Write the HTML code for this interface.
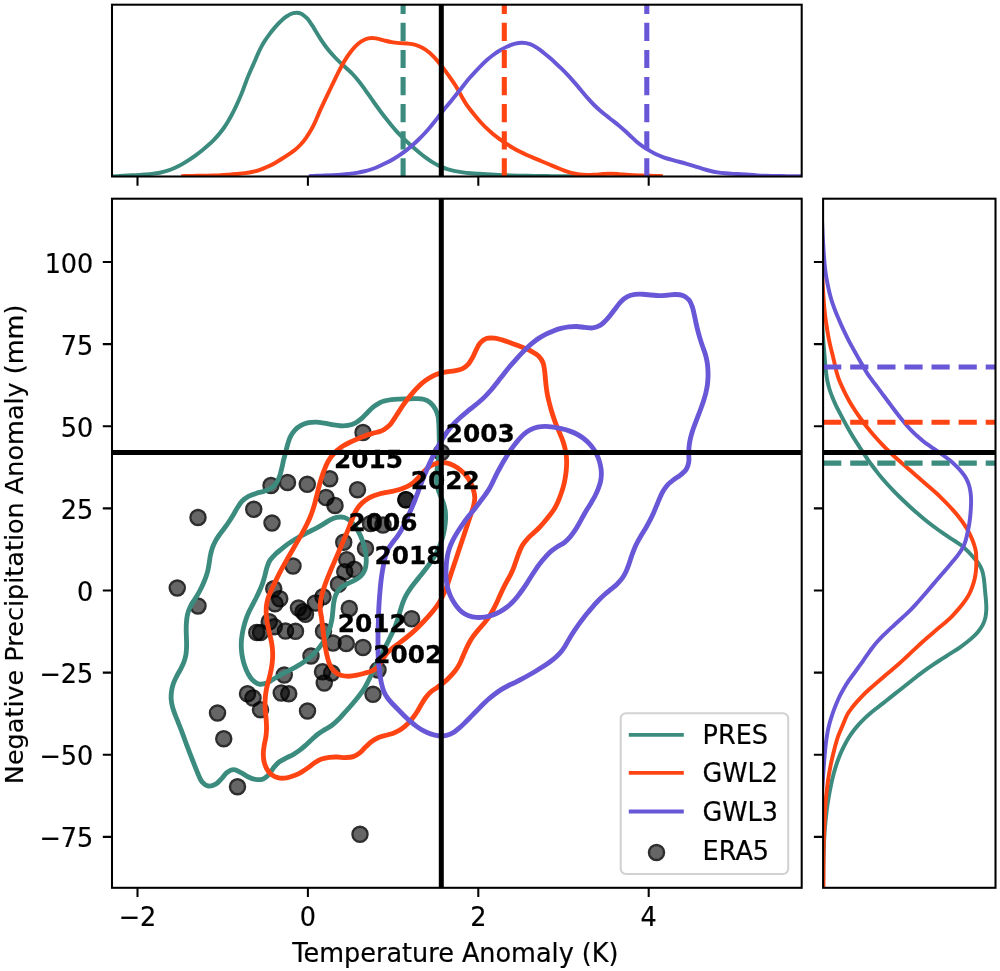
<!DOCTYPE html>
<html lang="en"><head><meta charset="utf-8"><title>Temperature vs precipitation anomaly</title>
<style>html,body{margin:0;padding:0;background:#fff}body{width:1000px;height:971px;overflow:hidden}svg{display:block}text{font-family:"DejaVu Sans","Liberation Sans",sans-serif;fill:#000}.t{font-size:25.5px;stroke:#000;stroke-width:.2px}.yl{font-size:25.5px;stroke:#000;stroke-width:.15px}.b{font-size:24.8px;font-weight:bold;stroke:#000;stroke-width:.3px}</style></head><body>
<svg width="1000" height="971" viewBox="0 0 1000 971">
<rect width="1000" height="971" fill="#fff"/>
<defs><clipPath id="ct"><rect x="112" y="4.7" width="689.7" height="171.8"/></clipPath><clipPath id="cm"><rect x="112" y="198.7" width="689.7" height="689.1"/></clipPath><clipPath id="cr"><rect x="823.1" y="198.7" width="172.4" height="689.1"/></clipPath></defs>
<g clip-path="url(#ct)" fill="none" stroke-linejoin="round">
<path d="M112,176.5C113.33,176.43 117.33,176.2 120,176.05C122.66,175.9 125.33,175.75 128,175.59C130.66,175.43 133.33,175.28 135.99,175.1C138.66,174.92 141.32,174.74 143.98,174.53C146.64,174.33 149.31,174.16 151.96,173.85C154.61,173.54 157.27,173.21 159.89,172.69C162.5,172.17 165.11,171.55 167.64,170.72C170.17,169.9 172.64,168.83 175.07,167.73C177.5,166.63 179.89,165.42 182.22,164.12C184.55,162.83 186.82,161.41 189.05,159.95C191.29,158.49 193.47,156.94 195.63,155.37C197.78,153.8 199.91,152.18 201.99,150.51C204.07,148.83 206.11,147.11 208.1,145.32C210.09,143.54 212.04,141.72 213.91,139.81C215.77,137.9 217.57,135.92 219.27,133.87C220.98,131.81 222.61,129.69 224.13,127.5C225.66,125.31 227.06,123.03 228.42,120.74C229.78,118.44 231.06,116.09 232.3,113.73C233.54,111.36 234.71,108.96 235.86,106.55C237.01,104.14 238.11,101.71 239.18,99.26C240.24,96.81 241.27,94.35 242.25,91.86C243.23,89.38 244.12,86.86 245.06,84.36C246,81.86 246.9,79.35 247.9,76.87C248.9,74.4 249.98,71.96 251.05,69.51C252.12,67.06 253.24,64.64 254.31,62.19C255.38,59.74 256.38,57.27 257.48,54.83C258.57,52.4 259.64,49.94 260.89,47.59C262.13,45.23 263.51,42.93 264.95,40.69C266.39,38.45 267.95,36.26 269.54,34.13C271.14,31.99 272.8,29.89 274.54,27.87C276.28,25.84 278.06,23.83 279.98,21.98C281.9,20.13 283.85,18.23 286.07,16.76C288.28,15.3 290.77,13.7 293.25,13.16C295.73,12.63 298.62,12.65 300.94,13.53C303.26,14.41 305.34,16.54 307.17,18.45C309,20.35 310.43,22.73 311.91,24.96C313.39,27.18 314.67,29.53 316.07,31.81C317.46,34.08 318.84,36.37 320.29,38.61C321.75,40.85 323.23,43.07 324.81,45.23C326.38,47.39 328.01,49.5 329.72,51.55C331.44,53.59 333.25,55.56 335.09,57.49C336.94,59.42 338.86,61.28 340.8,63.11C342.74,64.94 344.79,66.67 346.75,68.48C348.71,70.29 350.71,72.07 352.55,74C354.39,75.92 356.11,77.98 357.79,80.04C359.48,82.11 361.08,84.26 362.67,86.4C364.25,88.55 365.77,90.75 367.32,92.93C368.86,95.11 370.38,97.3 371.92,99.48C373.46,101.66 375,103.85 376.56,106.01C378.13,108.17 379.7,110.33 381.31,112.46C382.92,114.59 384.55,116.71 386.2,118.81C387.85,120.91 389.5,123.01 391.2,125.07C392.89,127.13 394.59,129.2 396.37,131.18C398.16,133.17 400.02,135.09 401.9,136.97C403.79,138.86 405.74,140.69 407.7,142.51C409.66,144.32 411.64,146.11 413.66,147.86C415.67,149.61 417.71,151.34 419.78,153.02C421.86,154.7 423.96,156.36 426.12,157.92C428.28,159.49 430.46,161.04 432.75,162.42C435.03,163.79 437.4,165.06 439.82,166.17C442.24,167.28 444.74,168.27 447.27,169.1C449.81,169.92 452.41,170.57 455.02,171.11C457.63,171.65 460.28,172 462.93,172.34C465.58,172.69 468.24,172.93 470.9,173.16C473.56,173.4 476.22,173.58 478.89,173.77C481.55,173.95 484.22,174.13 486.88,174.29C489.55,174.46 492.21,174.61 494.88,174.76C497.55,174.9 500.21,175.03 502.88,175.15C505.55,175.27 508.21,175.39 510.88,175.49C513.55,175.58 516.22,175.65 518.89,175.71C521.56,175.77 524.23,175.8 526.9,175.84C529.57,175.88 532.24,175.91 534.91,175.94C537.58,175.97 540.25,176 542.92,176.02C545.59,176.05 548.26,176.07 550.93,176.1C553.6,176.13 556.23,176.15 558.93,176.18C561.63,176.2 564.59,176.21 567.13,176.25C569.67,176.28 572.69,176.34 574.17,176.38C575.65,176.42 575.7,176.48 576,176.5" stroke="#3b8b7e" stroke-width="3.95"/>
<path d="M181.2,176.13C182.53,176.11 186.53,176.03 189.19,175.98C191.85,175.93 194.52,175.87 197.18,175.82C199.84,175.77 202.51,175.74 205.17,175.7C207.83,175.66 210.5,175.65 213.16,175.57C215.82,175.49 218.49,175.39 221.14,175.23C223.8,175.07 226.46,174.84 229.11,174.63C231.77,174.41 234.42,174.18 237.08,173.93C239.73,173.68 242.39,173.49 245.03,173.13C247.67,172.77 250.31,172.36 252.9,171.76C255.49,171.16 258.06,170.41 260.57,169.54C263.08,168.67 265.56,167.66 267.98,166.55C270.4,165.44 272.76,164.19 275.08,162.9C277.41,161.6 279.68,160.2 281.94,158.79C284.2,157.38 286.44,155.94 288.64,154.44C290.84,152.93 293.09,151.47 295.13,149.77C297.17,148.08 299.1,146.23 300.9,144.27C302.7,142.32 304.35,140.2 305.91,138.04C307.47,135.88 308.9,133.63 310.25,131.34C311.6,129.05 312.84,126.68 314.01,124.29C315.18,121.9 316.22,119.44 317.29,117C318.36,114.56 319.35,112.09 320.44,109.66C321.53,107.23 322.68,104.82 323.82,102.41C324.96,100.01 326.13,97.61 327.28,95.21C328.43,92.81 329.57,90.4 330.72,88C331.87,85.6 333.02,83.19 334.18,80.8C335.35,78.4 336.52,76.01 337.72,73.63C338.92,71.25 340.11,68.86 341.38,66.52C342.65,64.18 343.95,61.86 345.36,59.59C346.76,57.33 348.22,55.09 349.81,52.96C351.4,50.82 353.02,48.67 354.88,46.78C356.75,44.9 358.77,43.04 361,41.65C363.23,40.25 365.74,38.96 368.26,38.41C370.79,37.85 373.53,38.01 376.13,38.34C378.73,38.66 381.3,39.72 383.89,40.36C386.48,41 389.05,41.7 391.67,42.16C394.29,42.62 396.95,42.86 399.6,43.1C402.25,43.33 404.94,43.28 407.59,43.57C410.23,43.86 412.92,44.12 415.45,44.86C417.98,45.59 420.47,46.68 422.78,47.97C425.08,49.26 427.24,50.9 429.28,52.6C431.32,54.3 433.19,56.23 435.01,58.17C436.83,60.11 438.52,62.18 440.21,64.25C441.89,66.31 443.51,68.43 445.1,70.56C446.7,72.69 448.25,74.86 449.78,77.04C451.3,79.23 452.82,81.42 454.26,83.66C455.71,85.89 457.12,88.16 458.44,90.47C459.77,92.77 460.9,95.2 462.21,97.51C463.53,99.82 464.86,102.13 466.35,104.34C467.84,106.54 469.5,108.63 471.14,110.74C472.77,112.84 474.44,114.92 476.15,116.96C477.86,119 479.6,121.03 481.41,122.98C483.21,124.94 485.07,126.86 487,128.69C488.93,130.52 490.93,132.29 492.98,133.98C495.04,135.67 497.17,137.27 499.32,138.85C501.47,140.42 503.66,141.94 505.88,143.41C508.1,144.89 510.35,146.32 512.64,147.68C514.93,149.03 517.26,150.34 519.62,151.56C521.99,152.78 524.4,153.91 526.83,155.01C529.26,156.1 531.73,157.11 534.18,158.14C536.64,159.18 539.1,160.19 541.56,161.21C544.02,162.24 546.48,163.26 548.94,164.29C551.4,165.31 553.85,166.35 556.31,167.37C558.77,168.4 561.2,169.5 563.69,170.43C566.19,171.36 568.7,172.28 571.27,172.95C573.84,173.62 576.48,174.12 579.11,174.46C581.75,174.81 584.42,174.97 587.08,175.01C589.74,175.05 592.4,174.85 595.06,174.69C597.72,174.54 600.37,174.23 603.03,174.08C605.69,173.93 608.35,173.81 611.01,173.82C613.67,173.83 616.34,174.01 619,174.15C621.66,174.3 624.31,174.53 626.97,174.71C629.63,174.89 632.28,175.09 634.94,175.24C637.6,175.39 640.27,175.49 642.93,175.59C645.59,175.69 648.25,175.75 650.92,175.82C653.58,175.9 656.91,175.98 658.91,176.03C660.9,176.08 662.23,176.12 662.9,176.13" stroke="#ff4413" stroke-width="3.95"/>
<path d="M308.8,176.13C310.13,176.08 314.14,175.93 316.81,175.82C319.48,175.71 322.14,175.61 324.81,175.49C327.48,175.37 330.15,175.25 332.82,175.11C335.48,174.96 338.15,174.8 340.81,174.6C343.48,174.4 346.14,174.19 348.8,173.89C351.45,173.6 354.1,173.28 356.74,172.84C359.37,172.41 362.01,171.92 364.6,171.29C367.19,170.65 369.75,169.88 372.27,169C374.79,168.13 377.27,167.11 379.72,166.04C382.17,164.98 384.58,163.82 386.95,162.6C389.32,161.37 391.65,160.06 393.94,158.69C396.23,157.31 398.49,155.87 400.69,154.36C402.89,152.85 405.05,151.28 407.15,149.63C409.25,147.98 411.28,146.24 413.28,144.46C415.27,142.69 417.22,140.85 419.12,138.98C421.03,137.12 422.91,135.21 424.73,133.26C426.55,131.31 428.32,129.3 430.05,127.27C431.78,125.24 433.45,123.15 435.11,121.06C436.77,118.96 438.36,116.82 440,114.71C441.63,112.59 443.24,110.46 444.92,108.38C446.59,106.3 448.34,104.28 450.04,102.23C451.75,100.17 453.46,98.12 455.14,96.04C456.82,93.97 458.48,91.87 460.13,89.78C461.79,87.68 463.38,85.53 465.05,83.45C466.73,81.37 468.42,79.3 470.17,77.29C471.93,75.28 473.76,73.33 475.58,71.38C477.41,69.43 479.25,67.49 481.14,65.6C483.03,63.71 484.93,61.83 486.92,60.06C488.92,58.29 490.97,56.56 493.11,54.97C495.25,53.38 497.49,51.91 499.78,50.54C502.08,49.18 504.44,47.89 506.87,46.79C509.29,45.68 511.78,44.58 514.34,43.91C516.91,43.25 519.63,42.75 522.25,42.8C524.87,42.86 527.59,43.38 530.08,44.23C532.57,45.08 534.92,46.51 537.17,47.92C539.43,49.33 541.53,51.03 543.62,52.69C545.72,54.34 547.74,56.1 549.76,57.85C551.77,59.6 553.77,61.37 555.73,63.18C557.69,65 559.63,66.84 561.53,68.72C563.43,70.59 565.3,72.5 567.14,74.44C568.98,76.37 570.8,78.33 572.58,80.32C574.37,82.3 576.11,84.33 577.84,86.36C579.57,88.4 581.23,90.49 582.95,92.54C584.67,94.58 586.38,96.63 588.16,98.63C589.94,100.62 591.73,102.61 593.61,104.49C595.5,106.38 597.47,108.18 599.47,109.95C601.48,111.72 603.55,113.4 605.62,115.09C607.7,116.77 609.81,118.41 611.91,120.06C614,121.72 616.14,123.33 618.2,125.03C620.26,126.73 622.27,128.48 624.26,130.26C626.25,132.04 628.17,133.9 630.14,135.71C632.1,137.52 634.01,139.4 636.04,141.13C638.08,142.85 640.18,144.5 642.36,146.05C644.53,147.59 646.79,149.04 649.08,150.41C651.37,151.78 653.7,153.1 656.11,154.25C658.52,155.4 661,156.4 663.51,157.29C666.03,158.19 668.61,158.89 671.18,159.63C673.74,160.37 676.34,161.01 678.91,161.73C681.49,162.44 684.06,163.14 686.63,163.89C689.19,164.64 691.74,165.43 694.3,166.21C696.85,166.99 699.39,167.83 701.95,168.59C704.51,169.34 707.07,170.11 709.67,170.74C712.26,171.37 714.88,171.92 717.51,172.35C720.15,172.78 722.81,173.07 725.46,173.33C728.12,173.59 730.79,173.75 733.46,173.9C736.12,174.05 738.8,174.11 741.46,174.25C744.13,174.4 746.79,174.56 749.46,174.76C752.12,174.95 754.78,175.25 757.44,175.42C760.11,175.6 762.78,175.72 765.45,175.81C768.11,175.9 770.79,175.93 773.46,175.98C776.13,176.03 778.8,176.06 781.47,176.09C784.14,176.13 786.81,176.15 789.48,176.18C792.15,176.21 795.49,176.25 797.49,176.27C799.5,176.29 800.83,176.31 801.5,176.32" stroke="#6857d6" stroke-width="3.95"/>
<path d="M403.1,176.5 V4.7" stroke="#3b8b7e" stroke-width="5.1" stroke-dasharray="18.2 8.9" stroke-dashoffset="0"/>
<path d="M504.3,176.5 V4.7" stroke="#ff4413" stroke-width="5.1" stroke-dasharray="18.2 8.9" stroke-dashoffset="0"/>
<path d="M646.8,176.5 V4.7" stroke="#6857d6" stroke-width="5.1" stroke-dasharray="18.2 8.9" stroke-dashoffset="0"/>
<path d="M441.3,4.7 V176.5" stroke="#000" stroke-width="5.0"/>
</g>
<g clip-path="url(#cm)">
<g>
<circle cx="363" cy="432.5" r="6.6" fill="#000" fill-opacity=".6"/><circle cx="363" cy="432.5" r="7.55" fill="none" stroke="#000" stroke-opacity=".82" stroke-width="2.4"/>
<circle cx="329.75" cy="478.75" r="6.6" fill="#000" fill-opacity=".6"/><circle cx="329.75" cy="478.75" r="7.55" fill="none" stroke="#000" stroke-opacity=".82" stroke-width="2.4"/>
<circle cx="287.5" cy="482.5" r="6.6" fill="#000" fill-opacity=".6"/><circle cx="287.5" cy="482.5" r="7.55" fill="none" stroke="#000" stroke-opacity=".82" stroke-width="2.4"/>
<circle cx="307.25" cy="484.25" r="6.6" fill="#000" fill-opacity=".6"/><circle cx="307.25" cy="484.25" r="7.55" fill="none" stroke="#000" stroke-opacity=".82" stroke-width="2.4"/>
<circle cx="271" cy="485.5" r="6.6" fill="#000" fill-opacity=".6"/><circle cx="271" cy="485.5" r="7.55" fill="none" stroke="#000" stroke-opacity=".82" stroke-width="2.4"/>
<circle cx="357.5" cy="489.75" r="6.6" fill="#000" fill-opacity=".6"/><circle cx="357.5" cy="489.75" r="7.55" fill="none" stroke="#000" stroke-opacity=".82" stroke-width="2.4"/>
<circle cx="326" cy="497.5" r="6.6" fill="#000" fill-opacity=".6"/><circle cx="326" cy="497.5" r="7.55" fill="none" stroke="#000" stroke-opacity=".82" stroke-width="2.4"/>
<circle cx="335" cy="505.5" r="6.6" fill="#000" fill-opacity=".6"/><circle cx="335" cy="505.5" r="7.55" fill="none" stroke="#000" stroke-opacity=".82" stroke-width="2.4"/>
<circle cx="253.75" cy="509.25" r="6.6" fill="#000" fill-opacity=".6"/><circle cx="253.75" cy="509.25" r="7.55" fill="none" stroke="#000" stroke-opacity=".82" stroke-width="2.4"/>
<circle cx="198" cy="517.5" r="6.6" fill="#000" fill-opacity=".6"/><circle cx="198" cy="517.5" r="7.55" fill="none" stroke="#000" stroke-opacity=".82" stroke-width="2.4"/>
<circle cx="272" cy="523" r="6.6" fill="#000" fill-opacity=".6"/><circle cx="272" cy="523" r="7.55" fill="none" stroke="#000" stroke-opacity=".82" stroke-width="2.4"/>
<circle cx="343.75" cy="542.25" r="6.6" fill="#000" fill-opacity=".6"/><circle cx="343.75" cy="542.25" r="7.55" fill="none" stroke="#000" stroke-opacity=".82" stroke-width="2.4"/>
<circle cx="365.5" cy="548.5" r="6.6" fill="#000" fill-opacity=".6"/><circle cx="365.5" cy="548.5" r="7.55" fill="none" stroke="#000" stroke-opacity=".82" stroke-width="2.4"/>
<circle cx="346.75" cy="559.75" r="6.6" fill="#000" fill-opacity=".6"/><circle cx="346.75" cy="559.75" r="7.55" fill="none" stroke="#000" stroke-opacity=".82" stroke-width="2.4"/>
<circle cx="293" cy="566" r="6.6" fill="#000" fill-opacity=".6"/><circle cx="293" cy="566" r="7.55" fill="none" stroke="#000" stroke-opacity=".82" stroke-width="2.4"/>
<circle cx="354.25" cy="569.25" r="6.6" fill="#000" fill-opacity=".6"/><circle cx="354.25" cy="569.25" r="7.55" fill="none" stroke="#000" stroke-opacity=".82" stroke-width="2.4"/>
<circle cx="344.75" cy="571.75" r="6.6" fill="#000" fill-opacity=".6"/><circle cx="344.75" cy="571.75" r="7.55" fill="none" stroke="#000" stroke-opacity=".82" stroke-width="2.4"/>
<circle cx="338.5" cy="584.25" r="6.6" fill="#000" fill-opacity=".6"/><circle cx="338.5" cy="584.25" r="7.55" fill="none" stroke="#000" stroke-opacity=".82" stroke-width="2.4"/>
<circle cx="177.25" cy="588" r="6.6" fill="#000" fill-opacity=".6"/><circle cx="177.25" cy="588" r="7.55" fill="none" stroke="#000" stroke-opacity=".82" stroke-width="2.4"/>
<circle cx="273.75" cy="588.75" r="6.6" fill="#000" fill-opacity=".6"/><circle cx="273.75" cy="588.75" r="7.55" fill="none" stroke="#000" stroke-opacity=".82" stroke-width="2.4"/>
<circle cx="323" cy="596.75" r="6.6" fill="#000" fill-opacity=".6"/><circle cx="323" cy="596.75" r="7.55" fill="none" stroke="#000" stroke-opacity=".82" stroke-width="2.4"/>
<circle cx="279.75" cy="598.75" r="6.6" fill="#000" fill-opacity=".6"/><circle cx="279.75" cy="598.75" r="7.55" fill="none" stroke="#000" stroke-opacity=".82" stroke-width="2.4"/>
<circle cx="315.5" cy="603" r="6.6" fill="#000" fill-opacity=".6"/><circle cx="315.5" cy="603" r="7.55" fill="none" stroke="#000" stroke-opacity=".82" stroke-width="2.4"/>
<circle cx="275" cy="603.75" r="6.6" fill="#000" fill-opacity=".6"/><circle cx="275" cy="603.75" r="7.55" fill="none" stroke="#000" stroke-opacity=".82" stroke-width="2.4"/>
<circle cx="198" cy="606" r="6.6" fill="#000" fill-opacity=".6"/><circle cx="198" cy="606" r="7.55" fill="none" stroke="#000" stroke-opacity=".82" stroke-width="2.4"/>
<circle cx="298.5" cy="608" r="6.6" fill="#000" fill-opacity=".6"/><circle cx="298.5" cy="608" r="7.55" fill="none" stroke="#000" stroke-opacity=".82" stroke-width="2.4"/>
<circle cx="349.25" cy="608.5" r="6.6" fill="#000" fill-opacity=".6"/><circle cx="349.25" cy="608.5" r="7.55" fill="none" stroke="#000" stroke-opacity=".82" stroke-width="2.4"/>
<circle cx="303" cy="611.75" r="6.6" fill="#000" fill-opacity=".6"/><circle cx="303" cy="611.75" r="7.55" fill="none" stroke="#000" stroke-opacity=".82" stroke-width="2.4"/>
<circle cx="305.5" cy="614.25" r="6.6" fill="#000" fill-opacity=".6"/><circle cx="305.5" cy="614.25" r="7.55" fill="none" stroke="#000" stroke-opacity=".82" stroke-width="2.4"/>
<circle cx="269.25" cy="621.75" r="6.6" fill="#000" fill-opacity=".6"/><circle cx="269.25" cy="621.75" r="7.55" fill="none" stroke="#000" stroke-opacity=".82" stroke-width="2.4"/>
<circle cx="274.25" cy="626.75" r="6.6" fill="#000" fill-opacity=".6"/><circle cx="274.25" cy="626.75" r="7.55" fill="none" stroke="#000" stroke-opacity=".82" stroke-width="2.4"/>
<circle cx="256.75" cy="632.5" r="6.6" fill="#000" fill-opacity=".6"/><circle cx="256.75" cy="632.5" r="7.55" fill="none" stroke="#000" stroke-opacity=".82" stroke-width="2.4"/>
<circle cx="260.5" cy="632.5" r="6.6" fill="#000" fill-opacity=".6"/><circle cx="260.5" cy="632.5" r="7.55" fill="none" stroke="#000" stroke-opacity=".82" stroke-width="2.4"/>
<circle cx="285.5" cy="631" r="6.6" fill="#000" fill-opacity=".6"/><circle cx="285.5" cy="631" r="7.55" fill="none" stroke="#000" stroke-opacity=".82" stroke-width="2.4"/>
<circle cx="295.5" cy="631.25" r="6.6" fill="#000" fill-opacity=".6"/><circle cx="295.5" cy="631.25" r="7.55" fill="none" stroke="#000" stroke-opacity=".82" stroke-width="2.4"/>
<circle cx="323.5" cy="631.25" r="6.6" fill="#000" fill-opacity=".6"/><circle cx="323.5" cy="631.25" r="7.55" fill="none" stroke="#000" stroke-opacity=".82" stroke-width="2.4"/>
<circle cx="333" cy="643" r="6.6" fill="#000" fill-opacity=".6"/><circle cx="333" cy="643" r="7.55" fill="none" stroke="#000" stroke-opacity=".82" stroke-width="2.4"/>
<circle cx="346.25" cy="643.5" r="6.6" fill="#000" fill-opacity=".6"/><circle cx="346.25" cy="643.5" r="7.55" fill="none" stroke="#000" stroke-opacity=".82" stroke-width="2.4"/>
<circle cx="363" cy="647.5" r="6.6" fill="#000" fill-opacity=".6"/><circle cx="363" cy="647.5" r="7.55" fill="none" stroke="#000" stroke-opacity=".82" stroke-width="2.4"/>
<circle cx="311" cy="656" r="6.6" fill="#000" fill-opacity=".6"/><circle cx="311" cy="656" r="7.55" fill="none" stroke="#000" stroke-opacity=".82" stroke-width="2.4"/>
<circle cx="284.25" cy="675" r="6.6" fill="#000" fill-opacity=".6"/><circle cx="284.25" cy="675" r="7.55" fill="none" stroke="#000" stroke-opacity=".82" stroke-width="2.4"/>
<circle cx="322.5" cy="671.75" r="6.6" fill="#000" fill-opacity=".6"/><circle cx="322.5" cy="671.75" r="7.55" fill="none" stroke="#000" stroke-opacity=".82" stroke-width="2.4"/>
<circle cx="331.75" cy="673" r="6.6" fill="#000" fill-opacity=".6"/><circle cx="331.75" cy="673" r="7.55" fill="none" stroke="#000" stroke-opacity=".82" stroke-width="2.4"/>
<circle cx="324.25" cy="683" r="6.6" fill="#000" fill-opacity=".6"/><circle cx="324.25" cy="683" r="7.55" fill="none" stroke="#000" stroke-opacity=".82" stroke-width="2.4"/>
<circle cx="247.5" cy="693.75" r="6.6" fill="#000" fill-opacity=".6"/><circle cx="247.5" cy="693.75" r="7.55" fill="none" stroke="#000" stroke-opacity=".82" stroke-width="2.4"/>
<circle cx="253" cy="698" r="6.6" fill="#000" fill-opacity=".6"/><circle cx="253" cy="698" r="7.55" fill="none" stroke="#000" stroke-opacity=".82" stroke-width="2.4"/>
<circle cx="281.25" cy="693" r="6.6" fill="#000" fill-opacity=".6"/><circle cx="281.25" cy="693" r="7.55" fill="none" stroke="#000" stroke-opacity=".82" stroke-width="2.4"/>
<circle cx="288.75" cy="693.75" r="6.6" fill="#000" fill-opacity=".6"/><circle cx="288.75" cy="693.75" r="7.55" fill="none" stroke="#000" stroke-opacity=".82" stroke-width="2.4"/>
<circle cx="373" cy="694.25" r="6.6" fill="#000" fill-opacity=".6"/><circle cx="373" cy="694.25" r="7.55" fill="none" stroke="#000" stroke-opacity=".82" stroke-width="2.4"/>
<circle cx="260.5" cy="709.75" r="6.6" fill="#000" fill-opacity=".6"/><circle cx="260.5" cy="709.75" r="7.55" fill="none" stroke="#000" stroke-opacity=".82" stroke-width="2.4"/>
<circle cx="307.5" cy="711" r="6.6" fill="#000" fill-opacity=".6"/><circle cx="307.5" cy="711" r="7.55" fill="none" stroke="#000" stroke-opacity=".82" stroke-width="2.4"/>
<circle cx="217.5" cy="713" r="6.6" fill="#000" fill-opacity=".6"/><circle cx="217.5" cy="713" r="7.55" fill="none" stroke="#000" stroke-opacity=".82" stroke-width="2.4"/>
<circle cx="223.75" cy="738.75" r="6.6" fill="#000" fill-opacity=".6"/><circle cx="223.75" cy="738.75" r="7.55" fill="none" stroke="#000" stroke-opacity=".82" stroke-width="2.4"/>
<circle cx="237.5" cy="786.75" r="6.6" fill="#000" fill-opacity=".6"/><circle cx="237.5" cy="786.75" r="7.55" fill="none" stroke="#000" stroke-opacity=".82" stroke-width="2.4"/>
<circle cx="360" cy="834.25" r="6.6" fill="#000" fill-opacity=".6"/><circle cx="360" cy="834.25" r="7.55" fill="none" stroke="#000" stroke-opacity=".82" stroke-width="2.4"/>
<circle cx="441.4" cy="452.5" r="6.6" fill="#000" fill-opacity=".6"/><circle cx="441.4" cy="452.5" r="7.55" fill="none" stroke="#000" stroke-opacity=".82" stroke-width="2.4"/>
<circle cx="405.9" cy="499.7" r="6.6" fill="#000" fill-opacity=".6"/><circle cx="405.9" cy="499.7" r="7.55" fill="none" stroke="#000" stroke-opacity=".82" stroke-width="2.4"/>
<circle cx="405.9" cy="499.7" r="6.6" fill="#000" fill-opacity=".6"/><circle cx="405.9" cy="499.7" r="7.55" fill="none" stroke="#000" stroke-opacity=".82" stroke-width="2.4"/>
<circle cx="411.6" cy="618.8" r="6.6" fill="#000" fill-opacity=".6"/><circle cx="411.6" cy="618.8" r="7.55" fill="none" stroke="#000" stroke-opacity=".82" stroke-width="2.4"/>
<circle cx="378" cy="670" r="6.6" fill="#000" fill-opacity=".6"/><circle cx="378" cy="670" r="7.55" fill="none" stroke="#000" stroke-opacity=".82" stroke-width="2.4"/>
<circle cx="383" cy="525" r="6.6" fill="#000" fill-opacity=".6"/><circle cx="383" cy="525" r="7.55" fill="none" stroke="#000" stroke-opacity=".82" stroke-width="2.4"/>
<circle cx="370.5" cy="523.5" r="6.6" fill="#000" fill-opacity=".6"/><circle cx="370.5" cy="523.5" r="7.55" fill="none" stroke="#000" stroke-opacity=".82" stroke-width="2.4"/>
</g>
<g fill="none" stroke-width="4.85" stroke-linejoin="round">
<path d="M380.03,402.56C378.3,403.52 375.46,405.28 373.39,406.93C371.32,408.58 369.49,410.57 367.59,412.44C365.7,414.32 364.03,416.46 362.03,418.19C360.02,419.92 357.9,421.62 355.57,422.83C353.24,424.04 350.63,424.94 348.05,425.43C345.48,425.92 342.75,425.9 340.11,425.77C337.46,425.63 334.82,425.06 332.19,424.62C329.56,424.19 326.96,423.57 324.33,423.15C321.7,422.73 319.05,422.16 316.41,422.08C313.77,422.01 311.05,422.14 308.49,422.7C305.92,423.26 303.29,424.19 300.99,425.46C298.69,426.72 296.48,428.39 294.7,430.3C292.91,432.21 291.47,434.56 290.29,436.92C289.12,439.27 288.43,441.9 287.65,444.45C286.88,447 286.31,449.61 285.64,452.19C284.97,454.77 284.27,457.34 283.64,459.93C283.02,462.51 282.51,465.13 281.88,467.72C281.25,470.31 280.74,472.95 279.86,475.46C278.98,477.96 278.05,480.61 276.58,482.75C275.1,484.89 273.18,486.85 271.03,488.28C268.88,489.71 266.18,490.47 263.66,491.33C261.15,492.19 258.46,492.62 255.93,493.45C253.39,494.27 250.75,495.01 248.45,496.28C246.16,497.54 243.98,499.17 242.16,501.04C240.34,502.92 238.97,505.31 237.54,507.55C236.1,509.79 234.91,512.2 233.54,514.48C232.17,516.76 230.76,519.03 229.29,521.25C227.83,523.47 226.3,525.65 224.73,527.8C223.16,529.96 221.42,531.99 219.88,534.16C218.35,536.33 216.79,538.51 215.52,540.84C214.26,543.17 213.16,545.63 212.29,548.13C211.42,550.64 210.83,553.25 210.3,555.86C209.76,558.46 209.54,561.14 209.09,563.76C208.63,566.38 208.24,569.02 207.57,571.59C206.9,574.16 206.04,576.7 205.1,579.19C204.16,581.67 203.07,584.12 201.94,586.52C200.8,588.93 199.57,591.3 198.26,593.62C196.96,595.94 195.46,598.15 194.08,600.43C192.71,602.71 191.12,604.9 190.01,607.3C188.91,609.7 188.06,612.24 187.45,614.81C186.85,617.39 186.6,620.09 186.39,622.74C186.19,625.39 186.21,628.06 186.22,630.72C186.24,633.39 186.41,636.05 186.47,638.71C186.53,641.37 186.66,644.05 186.57,646.71C186.48,649.36 186.39,652.06 185.93,654.66C185.47,657.26 184.72,659.85 183.79,662.33C182.87,664.81 181.57,667.17 180.36,669.54C179.15,671.91 177.7,674.18 176.53,676.56C175.35,678.95 174.14,681.34 173.3,683.85C172.45,686.36 171.81,688.99 171.47,691.62C171.12,694.24 171.02,696.95 171.21,699.59C171.41,702.23 171.96,704.86 172.64,707.43C173.31,709.99 174.32,712.48 175.25,714.98C176.18,717.48 177.21,719.93 178.2,722.41C179.19,724.88 180.21,727.34 181.16,729.83C182.12,732.31 183.01,734.82 183.93,737.32C184.84,739.82 185.73,742.34 186.66,744.83C187.59,747.33 188.54,749.81 189.5,752.3C190.45,754.79 191.41,757.27 192.38,759.75C193.35,762.23 194.31,764.71 195.3,767.18C196.29,769.66 197.18,772.17 198.3,774.61C199.42,777.05 200.33,779.91 202,781.81C203.66,783.71 206,785.62 208.29,786.01C210.57,786.39 213.48,785.35 215.7,784.12C217.92,782.89 219.74,780.57 221.62,778.63C223.5,776.69 224.97,773.99 226.99,772.49C229,770.98 231.4,769.59 233.73,769.6C236.06,769.61 238.62,771.35 240.98,772.56C243.33,773.76 245.46,775.66 247.86,776.81C250.27,777.96 252.85,779.11 255.41,779.46C257.97,779.81 260.92,779.8 263.23,778.9C265.54,778 267.51,775.98 269.28,774.07C271.06,772.15 272.17,769.46 273.86,767.41C275.55,765.36 277.34,763.37 279.43,761.78C281.51,760.2 284.04,759.18 286.39,757.93C288.74,756.68 291.22,755.63 293.51,754.29C295.8,752.94 298.02,751.45 300.14,749.85C302.27,748.25 304.25,746.46 306.24,744.69C308.23,742.93 310.13,741.05 312.11,739.27C314.09,737.49 316,735.6 318.11,734C320.22,732.39 322.53,731.05 324.78,729.64C327.04,728.24 329.49,727.1 331.63,725.55C333.77,723.99 335.72,722.15 337.62,720.3C339.52,718.45 341.26,716.4 343.06,714.43C344.85,712.47 346.64,710.5 348.4,708.5C350.16,706.5 351.9,704.48 353.62,702.45C355.34,700.41 357.1,698.4 358.73,696.3C360.35,694.2 361.96,692.07 363.4,689.83C364.83,687.59 366.06,685.22 367.32,682.87C368.57,680.52 369.72,678.12 370.91,675.74C372.1,673.35 373.28,670.96 374.46,668.58C375.65,666.2 376.84,663.81 378.03,661.43C379.22,659.05 380.41,656.67 381.6,654.29C382.8,651.9 383.99,649.52 385.19,647.14C386.39,644.77 387.63,642.41 388.82,640.03C390.01,637.65 391.22,635.27 392.33,632.85C393.44,630.43 394.51,627.99 395.48,625.51C396.44,623.03 397.31,620.51 398.13,617.98C398.94,615.44 399.6,612.86 400.39,610.31C401.18,607.77 401.92,605.2 402.87,602.72C403.82,600.23 404.82,597.75 406.07,595.41C407.31,593.07 408.83,590.86 410.34,588.67C411.86,586.49 413.52,584.39 415.16,582.29C416.79,580.19 418.49,578.14 420.16,576.06C421.82,573.98 423.52,571.93 425.14,569.82C426.76,567.7 428.36,565.57 429.88,563.38C431.4,561.2 432.88,558.98 434.23,556.69C435.58,554.4 436.85,552.04 437.99,549.64C439.12,547.23 440.14,544.76 441.03,542.25C441.91,539.75 442.65,537.18 443.29,534.59C443.92,532.01 444.45,529.39 444.83,526.75C445.21,524.12 445.5,521.45 445.57,518.8C445.64,516.14 445.6,513.44 445.24,510.82C444.87,508.21 444.17,505.62 443.37,503.09C442.56,500.56 441.36,498.14 440.41,495.65C439.47,493.16 438.35,490.71 437.71,488.15C437.06,485.58 436.69,482.92 436.53,480.28C436.38,477.64 436.59,474.95 436.79,472.29C436.99,469.64 437.4,467 437.74,464.36C438.07,461.71 438.55,459.09 438.81,456.44C439.07,453.79 439.22,451.13 439.3,448.47C439.38,445.82 439.32,443.15 439.29,440.48C439.25,437.82 439.17,435.16 439.1,432.5C439.03,429.83 439.02,427.16 438.86,424.5C438.69,421.84 438.67,419.12 438.09,416.55C437.51,413.98 436.64,411.38 435.37,409.09C434.1,406.79 432.45,404.4 430.48,402.77C428.5,401.13 426.02,399.95 423.53,399.27C421.04,398.58 418.21,398.73 415.54,398.66C412.88,398.6 410.2,398.82 407.54,398.89C404.87,398.95 402.21,398.95 399.55,399.06C396.89,399.18 394.22,399.25 391.58,399.59C388.94,399.94 385.66,400.65 383.74,401.14C381.81,401.63 381.75,401.59 380.03,402.56Z" stroke="#3b8b7e"/>
<path d="M365.07,549.99C364.59,548.05 363.81,544.8 362.98,542.28C362.14,539.75 361.21,537.25 360.07,534.85C358.94,532.45 357.65,530.08 356.17,527.88C354.69,525.67 353.12,523.33 351.17,521.61C349.22,519.88 346.89,518.24 344.46,517.53C342.03,516.82 339.15,516.88 336.61,517.36C334.08,517.84 331.6,519.19 329.25,520.41C326.89,521.64 324.77,523.33 322.48,524.69C320.19,526.05 317.87,527.33 315.51,528.55C313.15,529.78 310.7,530.85 308.33,532.05C305.95,533.25 303.59,534.48 301.26,535.76C298.93,537.04 296.59,538.33 294.33,539.73C292.07,541.13 289.84,542.59 287.69,544.15C285.54,545.71 283.49,547.42 281.43,549.1C279.36,550.79 277.2,552.43 275.31,554.27C273.41,556.12 271.43,557.98 270.03,560.17C268.63,562.37 267.76,564.95 266.92,567.46C266.08,569.97 265.68,572.66 264.99,575.23C264.29,577.8 263.61,580.37 262.74,582.88C261.86,585.39 260.81,587.84 259.74,590.28C258.68,592.72 257.52,595.12 256.34,597.5C255.16,599.89 253.89,602.23 252.67,604.59C251.45,606.96 250.11,609.27 249,611.68C247.89,614.1 246.89,616.57 246.01,619.07C245.14,621.58 244.41,624.16 243.76,626.74C243.12,629.32 242.55,631.93 242.14,634.55C241.73,637.18 241.42,639.84 241.31,642.49C241.2,645.14 241.27,647.82 241.49,650.47C241.71,653.11 242.09,655.77 242.64,658.37C243.18,660.97 243.87,663.56 244.75,666.06C245.63,668.57 246.63,671.07 247.91,673.4C249.2,675.73 250.59,678.26 252.45,680.04C254.31,681.82 256.7,683.59 259.07,684.08C261.45,684.58 264.26,683.89 266.7,683.04C269.14,682.19 271.4,680.38 273.7,679.01C275.99,677.64 278.16,676.11 280.48,674.81C282.8,673.51 285.23,672.41 287.6,671.2C289.97,669.99 292.37,668.84 294.7,667.56C297.04,666.28 299.36,664.97 301.6,663.53C303.83,662.09 306.03,660.57 308.1,658.91C310.17,657.24 312.14,655.44 314.01,653.55C315.88,651.66 317.67,649.66 319.32,647.58C320.96,645.49 322.5,643.31 323.87,641.03C325.24,638.76 326.46,636.37 327.53,633.94C328.6,631.51 329.56,629 330.3,626.46C331.05,623.91 331.58,621.29 332.01,618.67C332.44,616.04 332.59,613.38 332.87,610.73C333.16,608.08 333.24,605.4 333.71,602.78C334.18,600.17 334.63,597.4 335.68,595.02C336.72,592.64 338.17,590.32 340,588.5C341.83,586.69 344.33,585.44 346.64,584.13C348.95,582.81 351.54,581.95 353.86,580.63C356.17,579.31 358.69,578.02 360.52,576.2C362.35,574.39 363.9,572.14 364.85,569.75C365.8,567.36 366.07,564.51 366.23,561.87C366.39,559.23 366.01,555.89 365.82,553.91C365.62,551.93 365.54,551.93 365.07,549.99Z" stroke="#3b8b7e"/>
<path d="M380.06,431.33C378.16,431.95 374.89,432.77 372.33,433.54C369.77,434.32 367.22,435.09 364.71,436C362.21,436.91 359.74,437.95 357.28,438.99C354.83,440.03 352.36,441.08 349.97,442.25C347.57,443.42 345.14,444.58 342.9,446.02C340.67,447.45 338.52,449.08 336.56,450.87C334.6,452.67 332.76,454.67 331.16,456.78C329.56,458.9 328.17,461.21 326.96,463.58C325.75,465.94 324.83,468.48 323.89,470.97C322.95,473.47 322.13,476.02 321.32,478.56C320.52,481.11 319.78,483.67 319.09,486.25C318.39,488.83 317.8,491.43 317.15,494.02C316.5,496.61 315.9,499.21 315.19,501.78C314.49,504.36 313.75,506.93 312.92,509.46C312.09,512 311.21,514.52 310.2,516.99C309.19,519.46 308.04,521.87 306.86,524.27C305.68,526.66 304.4,529.01 303.13,531.35C301.86,533.7 300.55,536.03 299.23,538.35C297.92,540.67 296.57,542.97 295.23,545.28C293.89,547.59 292.56,549.9 291.22,552.21C289.88,554.52 288.52,556.82 287.2,559.14C285.87,561.45 284.54,563.77 283.26,566.11C281.98,568.45 280.73,570.81 279.52,573.19C278.3,575.56 277.12,577.96 275.95,580.36C274.78,582.76 273.62,585.16 272.49,587.58C271.37,590 270.13,592.4 269.21,594.89C268.28,597.39 267.46,599.94 266.95,602.55C266.44,605.15 266.22,607.85 266.16,610.51C266.1,613.17 266.29,615.85 266.59,618.5C266.89,621.15 267.44,623.77 267.97,626.39C268.49,629 269.14,631.6 269.73,634.2C270.31,636.8 271.02,639.39 271.48,642.01C271.94,644.64 272.31,647.29 272.5,649.95C272.69,652.6 272.73,655.29 272.61,657.95C272.49,660.61 272.18,663.27 271.79,665.91C271.4,668.55 270.85,671.17 270.27,673.77C269.69,676.38 268.95,678.95 268.3,681.53C267.66,684.12 266.9,686.69 266.41,689.31C265.91,691.93 265.54,694.58 265.31,697.24C265.08,699.89 264.98,702.57 265.03,705.24C265.08,707.9 265.4,710.56 265.62,713.22C265.83,715.88 266.15,718.53 266.3,721.19C266.45,723.86 266.6,726.54 266.52,729.2C266.45,731.87 266.24,734.53 265.86,737.16C265.48,739.79 264.66,742.37 264.24,745C263.81,747.63 263.37,750.29 263.32,752.94C263.27,755.6 263.39,758.33 263.93,760.92C264.47,763.51 265.3,766.18 266.56,768.48C267.83,770.77 269.5,773.12 271.52,774.7C273.54,776.28 276.16,777.42 278.69,777.96C281.21,778.49 284.06,778.29 286.67,777.89C289.28,777.49 291.85,776.53 294.33,775.56C296.81,774.58 299.23,773.36 301.54,772.04C303.85,770.72 306.03,769.18 308.21,767.64C310.38,766.1 312.36,764.23 314.6,762.81C316.84,761.38 319.18,759.99 321.65,759.07C324.12,758.15 326.79,757.62 329.42,757.29C332.04,756.95 334.75,756.99 337.42,757.04C340.1,757.09 342.8,757.62 345.45,757.56C348.09,757.49 350.86,757.48 353.3,756.65C355.74,755.82 358.02,754.22 360.09,752.59C362.16,750.96 363.8,748.73 365.73,746.87C367.66,745.02 369.53,743.04 371.67,741.49C373.8,739.93 376.14,738.59 378.56,737.55C380.99,736.5 383.67,735.99 386.22,735.21C388.78,734.44 391.44,733.9 393.91,732.92C396.37,731.94 398.81,730.77 401.02,729.32C403.24,727.87 405.26,726.07 407.18,724.23C409.1,722.38 410.87,720.34 412.52,718.25C414.18,716.17 415.69,713.96 417.12,711.71C418.56,709.47 419.76,707.07 421.14,704.78C422.52,702.5 423.81,700.11 425.39,697.98C426.98,695.86 428.7,693.79 430.66,692.03C432.63,690.26 435.03,688.97 437.2,687.42C439.37,685.87 441.62,684.42 443.67,682.72C445.71,681.01 447.6,679.11 449.46,677.2C451.32,675.28 453.2,673.34 454.82,671.24C456.45,669.13 457.93,666.9 459.21,664.57C460.49,662.25 461.43,659.72 462.5,657.27C463.57,654.83 464.53,652.33 465.64,649.9C466.76,647.48 467.88,645.05 469.18,642.72C470.48,640.4 471.9,638.13 473.45,635.96C474.99,633.79 476.72,631.74 478.43,629.69C480.15,627.65 482.02,625.73 483.72,623.68C485.43,621.63 487.13,619.56 488.64,617.37C490.15,615.18 491.52,612.87 492.8,610.54C494.09,608.2 495.23,605.78 496.37,603.37C497.52,600.96 498.57,598.5 499.69,596.08C500.8,593.65 501.88,591.21 503.05,588.81C504.21,586.41 505.43,584.03 506.69,581.68C507.95,579.33 509.4,577.07 510.58,574.68C511.77,572.3 512.82,569.85 513.8,567.37C514.77,564.89 515.52,562.32 516.42,559.8C517.31,557.28 518.15,554.73 519.17,552.27C520.2,549.81 521.2,547.29 522.58,545.04C523.96,542.79 525.68,540.72 527.46,538.76C529.25,536.79 531.35,535.08 533.29,533.24C535.23,531.41 537.25,529.66 539.11,527.74C540.97,525.83 542.71,523.81 544.44,521.78C546.17,519.75 547.88,517.68 549.51,515.57C551.14,513.46 552.82,511.36 554.21,509.1C555.6,506.83 556.76,504.42 557.85,501.99C558.95,499.56 559.88,497.04 560.78,494.53C561.68,492.01 562.55,489.48 563.25,486.91C563.96,484.34 564.52,481.73 565.01,479.1C565.49,476.48 565.87,473.83 566.14,471.18C566.42,468.52 566.63,465.85 566.65,463.18C566.66,460.52 566.58,457.83 566.26,455.19C565.95,452.55 565.39,449.92 564.75,447.34C564.1,444.76 563.28,442.2 562.38,439.69C561.48,437.18 560.38,434.74 559.36,432.28C558.33,429.81 557.2,427.39 556.23,424.91C555.26,422.42 554.37,419.9 553.52,417.37C552.68,414.84 551.91,412.28 551.16,409.72C550.42,407.16 549.72,404.58 549.07,401.99C548.43,399.4 547.81,396.8 547.32,394.18C546.83,391.55 546.48,388.91 546.15,386.26C545.82,383.61 545.61,380.95 545.35,378.29C545.08,375.63 544.96,372.94 544.55,370.3C544.15,367.67 543.93,364.86 542.93,362.47C541.94,360.07 540.41,357.76 538.57,355.94C536.74,354.11 534.25,352.8 531.92,351.51C529.59,350.23 527.05,349.26 524.59,348.23C522.13,347.19 519.63,346.26 517.14,345.29C514.65,344.32 512.17,343.33 509.66,342.43C507.15,341.52 504.65,340.59 502.07,339.88C499.5,339.17 496.84,338.39 494.2,338.18C491.57,337.96 488.63,337.75 486.27,338.56C483.9,339.38 481.72,341.13 480.01,343.05C478.31,344.97 477.29,347.69 476.06,350.07C474.83,352.46 473.91,355.01 472.63,357.35C471.35,359.69 470.13,362.21 468.38,364.13C466.62,366.05 464.44,367.76 462.11,368.88C459.78,370 457,370.38 454.38,370.87C451.76,371.35 449.03,371.34 446.4,371.8C443.77,372.25 441.14,372.78 438.62,373.61C436.1,374.44 433.61,375.52 431.28,376.78C428.94,378.04 426.72,379.57 424.6,381.18C422.48,382.79 420.48,384.59 418.56,386.44C416.65,388.3 414.85,390.28 413.1,392.29C411.34,394.3 409.67,396.39 408.03,398.5C406.4,400.6 404.8,402.75 403.27,404.93C401.74,407.12 400.31,409.37 398.85,411.61C397.38,413.84 395.99,416.11 394.49,418.33C392.99,420.55 391.65,422.99 389.86,424.9C388.07,426.82 385.39,428.75 383.76,429.82C382.13,430.89 381.97,430.71 380.06,431.33Z" stroke="#ff4413"/>
<path d="M380,493.77C378.09,494.34 374.85,495.25 372.43,496.32C370.01,497.4 367.61,498.69 365.46,500.23C363.31,501.78 361.27,503.59 359.55,505.59C357.84,507.59 356.41,509.9 355.15,512.23C353.89,514.57 353.01,517.12 352.02,519.59C351.02,522.06 350.14,524.59 349.15,527.06C348.16,529.54 347.12,531.99 346.09,534.45C345.06,536.91 344.02,539.37 342.98,541.82C341.93,544.27 340.88,546.72 339.83,549.17C338.78,551.62 337.73,554.08 336.67,556.52C335.61,558.97 334.53,561.41 333.47,563.85C332.41,566.3 331.33,568.74 330.31,571.2C329.28,573.66 328.28,576.13 327.31,578.62C326.35,581.1 325.37,583.59 324.51,586.11C323.66,588.63 322.84,591.17 322.18,593.76C321.52,596.34 320.87,598.98 320.56,601.6C320.24,604.23 320.11,606.89 320.26,609.52C320.41,612.16 321.1,614.76 321.47,617.4C321.84,620.04 322.15,622.69 322.47,625.34C322.79,627.99 323.07,630.64 323.4,633.28C323.72,635.93 324.05,638.58 324.43,641.21C324.81,643.85 325.2,646.49 325.68,649.12C326.16,651.74 326.64,654.37 327.32,656.95C328,659.53 328.64,662.21 329.77,664.59C330.91,666.96 332.28,669.43 334.14,671.2C336,672.97 338.47,674.37 340.92,675.21C343.37,676.05 346.19,676.23 348.83,676.24C351.48,676.24 354.16,675.74 356.77,675.24C359.39,674.73 361.97,673.96 364.53,673.23C367.1,672.5 369.88,672.02 372.16,670.86C374.43,669.71 376.48,668.19 378.2,666.3C379.93,664.4 381.02,661.71 382.51,659.49C384,657.27 385.4,654.96 387.15,652.98C388.9,651 390.96,649.28 393.01,647.6C395.07,645.91 397.33,644.46 399.47,642.86C401.61,641.26 403.74,639.66 405.83,638.01C407.91,636.35 410,634.68 412,632.92C414,631.16 415.92,629.31 417.82,627.44C419.72,625.57 421.56,623.64 423.4,621.71C425.24,619.78 427.07,617.84 428.85,615.85C430.62,613.86 432.41,611.87 434.05,609.78C435.69,607.68 437.27,605.52 438.69,603.27C440.11,601.02 441.39,598.67 442.58,596.28C443.77,593.9 444.83,591.44 445.82,588.97C446.82,586.5 447.69,583.98 448.56,581.46C449.43,578.94 450.2,576.39 451.03,573.85C451.86,571.32 452.7,568.79 453.54,566.26C454.38,563.73 455.23,561.2 456.08,558.67C456.92,556.14 457.76,553.61 458.61,551.08C459.45,548.55 460.29,546.02 461.14,543.5C461.98,540.97 462.82,538.44 463.66,535.91C464.51,533.38 465.35,530.85 466.2,528.32C467.04,525.79 467.88,523.26 468.73,520.73C469.58,518.21 470.45,515.69 471.28,513.15C472.1,510.61 473.09,508.08 473.67,505.5C474.26,502.91 474.84,500.25 474.8,497.63C474.76,495.02 474.16,492.36 473.45,489.81C472.73,487.26 471.73,484.7 470.53,482.34C469.32,479.98 467.87,477.7 466.2,475.65C464.53,473.6 462.56,471.71 460.49,470.05C458.43,468.38 456.18,466.81 453.82,465.64C451.45,464.46 448.87,463.45 446.29,462.98C443.71,462.52 440.89,462.4 438.34,462.85C435.78,463.3 433.21,464.37 430.95,465.68C428.68,467 426.66,468.89 424.73,470.72C422.8,472.54 421.19,474.73 419.35,476.65C417.51,478.58 415.76,480.63 413.7,482.28C411.63,483.93 409.33,485.37 406.97,486.57C404.61,487.76 402.06,488.65 399.52,489.46C396.99,490.26 394.37,490.82 391.76,491.4C389.16,491.97 385.86,492.51 383.9,492.9C381.94,493.3 381.91,493.2 380,493.77Z" stroke="#ff4413"/>
<path d="M392.43,542.71C394,540.56 395.81,538.56 397.34,536.38C398.87,534.21 400.31,531.96 401.61,529.64C402.92,527.33 404.04,524.89 405.19,522.49C406.35,520.09 407.45,517.66 408.54,515.23C409.63,512.79 410.71,510.35 411.75,507.9C412.79,505.45 413.81,502.99 414.79,500.51C415.78,498.03 416.71,495.53 417.64,493.04C418.57,490.54 419.45,488.02 420.39,485.53C421.33,483.03 422.28,480.54 423.28,478.07C424.27,475.6 425.3,473.14 426.35,470.69C427.41,468.24 428.48,465.8 429.59,463.38C430.71,460.95 431.84,458.54 433.02,456.15C434.2,453.76 435.41,451.39 436.66,449.03C437.92,446.68 439.18,444.33 440.54,442.04C441.9,439.75 443.3,437.48 444.8,435.28C446.3,433.08 447.88,430.92 449.54,428.83C451.2,426.75 452.93,424.71 454.75,422.77C456.58,420.84 458.54,419.02 460.51,417.23C462.48,415.43 464.52,413.72 466.58,412.02C468.63,410.32 470.74,408.69 472.82,407.02C474.9,405.36 477.05,403.77 479.07,402.03C481.09,400.3 483.06,398.5 484.95,396.62C486.84,394.75 488.65,392.78 490.41,390.77C492.16,388.77 493.8,386.66 495.46,384.58C497.12,382.5 498.73,380.37 500.38,378.27C502.03,376.18 503.67,374.08 505.33,372C507,369.92 508.67,367.84 510.38,365.8C512.1,363.76 513.85,361.75 515.63,359.76C517.41,357.77 519.21,355.81 521.04,353.87C522.87,351.94 524.7,349.99 526.62,348.15C528.54,346.3 530.5,344.47 532.57,342.8C534.64,341.13 536.79,339.54 539.03,338.1C541.27,336.67 543.61,335.37 545.99,334.17C548.37,332.98 550.82,331.88 553.3,330.92C555.78,329.97 558.32,329.1 560.89,328.43C563.47,327.76 566.1,327.22 568.74,326.9C571.38,326.58 574.06,326.43 576.72,326.51C579.37,326.59 582.02,327.15 584.67,327.39C587.33,327.62 590.08,328.26 592.64,327.93C595.21,327.61 597.82,326.72 600.06,325.43C602.3,324.14 604.21,322.07 606.08,320.17C607.94,318.28 609.59,316.14 611.25,314.05C612.92,311.97 614.43,309.77 616.07,307.67C617.71,305.56 619.19,303.26 621.08,301.41C622.97,299.57 625.07,297.78 627.4,296.62C629.72,295.46 632.41,294.84 635.02,294.45C637.62,294.06 640.37,294.18 643.03,294.27C645.69,294.36 648.34,294.76 651,295C653.65,295.23 656.3,295.64 658.96,295.68C661.61,295.72 664.27,295.46 666.93,295.26C669.59,295.06 672.27,294.44 674.92,294.46C677.57,294.49 680.47,294.5 682.83,295.43C685.19,296.35 687.49,298.03 689.09,300C690.69,301.96 691.56,304.72 692.43,307.23C693.31,309.73 693.75,312.43 694.35,315.03C694.94,317.64 695.4,320.26 695.98,322.86C696.56,325.46 697.14,328.06 697.81,330.64C698.47,333.22 699.2,335.79 699.97,338.34C700.75,340.89 701.6,343.42 702.45,345.94C703.31,348.46 704.34,350.94 705.1,353.49C705.86,356.04 706.53,358.63 706.99,361.24C707.45,363.86 707.71,366.53 707.87,369.19C708.04,371.85 708.09,374.53 708,377.19C707.91,379.85 707.72,382.52 707.36,385.15C706.99,387.79 706.45,390.41 705.82,392.99C705.19,395.58 704.4,398.14 703.6,400.68C702.79,403.22 701.89,405.73 700.99,408.24C700.09,410.74 699.12,413.23 698.17,415.72C697.23,418.21 696.27,420.7 695.33,423.2C694.4,425.69 693.4,428.17 692.58,430.71C691.76,433.24 691.01,435.8 690.43,438.4C689.85,441 689.37,443.64 689.1,446.28C688.83,448.93 688.86,451.6 688.8,454.26C688.74,456.93 689.18,459.72 688.73,462.29C688.29,464.85 687.5,467.52 686.1,469.66C684.71,471.8 682.43,473.46 680.37,475.12C678.31,476.79 675.85,478.04 673.73,479.66C671.61,481.27 669.42,482.87 667.63,484.8C665.84,486.74 664.36,488.98 663.01,491.26C661.66,493.54 660.63,496.05 659.55,498.48C658.46,500.92 657.52,503.42 656.49,505.88C655.47,508.34 654.5,510.82 653.4,513.25C652.31,515.68 651.16,518.09 649.93,520.45C648.71,522.82 647.4,525.14 646.06,527.45C644.72,529.75 643.25,531.98 641.9,534.28C640.55,536.58 639.2,538.88 637.95,541.23C636.71,543.59 635.5,545.97 634.45,548.42C633.4,550.86 632.53,553.38 631.65,555.9C630.77,558.41 630.05,560.99 629.16,563.5C628.27,566.02 627.43,568.57 626.31,570.98C625.19,573.39 623.96,575.79 622.44,577.96C620.93,580.12 619.1,582.11 617.21,583.97C615.32,585.83 613.15,587.43 611.11,589.14C609.06,590.85 606.95,592.48 604.94,594.24C602.94,596 600.97,597.79 599.1,599.69C597.23,601.58 595.48,603.6 593.72,605.6C591.96,607.6 590.26,609.66 588.55,611.71C586.85,613.76 585.13,615.8 583.49,617.9C581.85,620 580.26,622.14 578.71,624.31C577.17,626.48 575.68,628.69 574.22,630.92C572.75,633.15 571.31,635.39 569.93,637.67C568.55,639.95 567.35,642.35 565.95,644.61C564.54,646.87 563.16,649.17 561.51,651.24C559.85,653.31 557.97,655.23 556.01,657.03C554.06,658.84 551.93,660.47 549.79,662.05C547.64,663.63 545.39,665.06 543.15,666.51C540.91,667.95 538.63,669.33 536.34,670.71C534.06,672.09 531.77,673.44 529.45,674.77C527.14,676.1 524.83,677.42 522.47,678.67C520.12,679.93 517.74,681.12 515.35,682.3C512.96,683.47 510.49,684.5 508.12,685.72C505.75,686.94 503.39,688.19 501.14,689.61C498.89,691.02 496.72,692.59 494.59,694.2C492.47,695.8 490.39,697.48 488.38,699.23C486.37,700.98 484.45,702.83 482.55,704.69C480.65,706.56 478.84,708.53 476.98,710.44C475.13,712.35 473.27,714.27 471.41,716.17C469.54,718.07 467.68,719.99 465.78,721.85C463.88,723.72 462,725.64 459.98,727.38C457.96,729.11 455.95,730.97 453.67,732.28C451.39,733.6 448.87,734.69 446.32,735.26C443.76,735.83 440.98,735.94 438.36,735.72C435.74,735.49 433.11,734.75 430.59,733.91C428.08,733.07 425.62,731.91 423.28,730.65C420.94,729.4 418.7,727.92 416.54,726.36C414.39,724.81 412.36,723.05 410.35,721.31C408.33,719.57 406.37,717.75 404.45,715.91C402.52,714.06 400.66,712.16 398.8,710.25C396.93,708.35 395.05,706.45 393.24,704.5C391.42,702.54 389.45,700.68 387.9,698.54C386.35,696.4 384.99,694.08 383.94,691.66C382.9,689.24 382.26,686.59 381.62,684C380.98,681.42 380.54,678.78 380.12,676.15C379.69,673.51 379.38,670.87 379.09,668.22C378.81,665.57 378.59,662.91 378.42,660.25C378.24,657.59 378.14,654.92 378.06,652.26C377.99,649.6 378,646.93 377.99,644.26C377.98,641.6 377.99,638.93 378.02,636.27C378.05,633.6 378.1,630.94 378.16,628.27C378.22,625.61 378.31,622.94 378.39,620.28C378.47,617.61 378.54,614.95 378.64,612.28C378.75,609.62 378.86,606.96 379.02,604.3C379.17,601.64 379.37,598.98 379.57,596.32C379.78,593.66 380,591 380.25,588.35C380.5,585.7 380.76,583.04 381.08,580.4C381.4,577.75 381.77,575.11 382.19,572.48C382.6,569.85 383.06,567.22 383.57,564.6C384.07,561.98 384.5,559.31 385.23,556.76C385.96,554.21 386.76,551.64 387.96,549.3C389.16,546.96 390.87,544.86 392.43,542.71Z" stroke="#6857d6"/>
<path d="M467.73,517.32C466.51,518.92 464.51,521.6 462.97,523.79C461.43,525.97 459.93,528.2 458.5,530.45C457.06,532.71 455.62,534.98 454.34,537.32C453.06,539.67 451.84,542.07 450.83,544.54C449.82,547.01 448.95,549.56 448.28,552.14C447.61,554.72 447.15,557.37 446.79,560.02C446.42,562.67 446.23,565.35 446.1,568.02C445.97,570.69 445.9,573.38 446.02,576.05C446.14,578.72 446.36,581.41 446.82,584.03C447.28,586.66 447.92,589.29 448.78,591.81C449.64,594.33 450.73,596.81 451.99,599.16C453.24,601.51 454.69,603.82 456.33,605.92C457.96,608.03 459.73,610.14 461.79,611.78C463.86,613.43 466.24,614.83 468.7,615.77C471.15,616.72 473.88,617.24 476.52,617.45C479.16,617.67 481.9,617.47 484.53,617.09C487.17,616.7 489.8,616 492.32,615.14C494.84,614.27 497.3,613.15 499.65,611.88C501.99,610.61 504.25,609.12 506.37,607.51C508.5,605.89 510.5,604.09 512.38,602.2C514.27,600.31 516,598.25 517.69,596.17C519.37,594.1 520.94,591.92 522.49,589.74C524.04,587.56 525.53,585.33 526.99,583.09C528.46,580.86 529.85,578.57 531.29,576.31C532.72,574.05 534.11,571.76 535.62,569.55C537.13,567.35 538.69,565.17 540.35,563.07C542.01,560.98 543.78,558.96 545.57,556.98C547.37,554.99 549.14,552.91 551.14,551.17C553.15,549.44 555.4,548.02 557.62,546.57C559.84,545.12 562.38,544.09 564.47,542.47C566.56,540.85 568.4,538.85 570.14,536.84C571.89,534.82 573.46,532.61 574.95,530.39C576.44,528.17 577.76,525.84 579.09,523.52C580.42,521.21 581.64,518.81 582.95,516.48C584.26,514.15 585.57,511.82 586.94,509.52C588.32,507.22 589.81,505 591.18,502.7C592.54,500.4 593.93,498.11 595.13,495.72C596.33,493.33 597.44,490.87 598.37,488.37C599.3,485.87 600.2,483.3 600.7,480.69C601.2,478.09 601.42,475.38 601.36,472.72C601.29,470.07 600.87,467.37 600.3,464.77C599.73,462.17 598.93,459.57 597.92,457.1C596.91,454.64 595.67,452.23 594.23,449.99C592.79,447.75 591.09,445.63 589.28,443.68C587.46,441.73 585.46,439.89 583.34,438.28C581.23,436.67 578.92,435.24 576.56,434C574.2,432.77 571.7,431.76 569.18,430.88C566.66,429.99 564.05,429.34 561.45,428.71C558.85,428.09 556.21,427.53 553.57,427.13C550.93,426.73 548.24,426.31 545.59,426.31C542.93,426.3 540.21,426.5 537.62,427.09C535.04,427.68 532.44,428.62 530.1,429.84C527.76,431.07 525.57,432.7 523.57,434.45C521.57,436.19 519.83,438.29 518.09,440.32C516.35,442.35 514.71,444.48 513.12,446.63C511.54,448.78 510.03,451 508.58,453.24C507.12,455.49 505.75,457.79 504.38,460.09C503.01,462.39 501.68,464.71 500.38,467.05C499.08,469.39 497.79,471.73 496.57,474.12C495.36,476.5 494.27,478.95 493.09,481.35C491.9,483.75 490.8,486.2 489.45,488.5C488.1,490.8 486.53,492.97 484.98,495.16C483.44,497.34 481.79,499.45 480.18,501.59C478.58,503.74 477,505.9 475.35,508C473.69,510.1 471.53,512.66 470.26,514.21C468.99,515.76 468.94,515.73 467.73,517.32Z" stroke="#6857d6"/>
</g>
<path d="M441.3,198.7 V887.8 M112,452.4 H801.7" stroke="#000" stroke-width="5.0" fill="none"/>
</g>
<text class="b" transform="translate(445.8,442) scale(1,1.030)">2003</text>
<text class="b" transform="translate(334.1,468) scale(1,1.030)">2015</text>
<text class="b" transform="translate(410.8,489.2) scale(1,1.030)">2022</text>
<text class="b" transform="translate(348.4,531) scale(1,1.030)">2006</text>
<text class="b" transform="translate(374.5,563.5) scale(1,1.030)">2018</text>
<text class="b" transform="translate(337.7,632.2) scale(1,1.030)">2012</text>
<text class="b" transform="translate(373.2,663.4) scale(1,1.030)">2002</text>
<rect x="620.7" y="713.3" width="167.5" height="160.7" rx="5.2" ry="5.2" fill="#fff" fill-opacity=".8" stroke="#d2d2d2" stroke-width="2.1"/>
<path d="M628.8,734.8 H683.8" stroke="#3b8b7e" stroke-width="3.8" fill="none"/>
<path d="M628.8,772.9 H683.8" stroke="#ff4413" stroke-width="3.8" fill="none"/>
<path d="M628.8,811.5 H683.8" stroke="#6857d6" stroke-width="3.8" fill="none"/>
<circle cx="656.5" cy="852.5" r="6.6" fill="#000" fill-opacity=".6"/><circle cx="656.5" cy="852.5" r="7.55" fill="none" stroke="#000" stroke-opacity=".82" stroke-width="2.4"/>
<text class="t" transform="translate(702.6,744.2) scale(1,1.020)">PRES</text>
<text class="t" transform="translate(702.6,782.4) scale(1,1.020)">GWL2</text>
<text class="t" transform="translate(702.6,820.9) scale(1,1.020)">GWL3</text>
<text class="t" transform="translate(702.6,859.6) scale(1,1.020)">ERA5</text>
<g clip-path="url(#cr)" fill="none" stroke-linejoin="round">
<path d="M821.3,295C821.34,296.33 821.44,300.32 821.52,302.98C821.59,305.64 821.66,308.31 821.74,310.97C821.82,313.63 821.89,316.29 822,318.95C822.1,321.61 822.21,324.27 822.35,326.93C822.49,329.58 822.66,332.24 822.85,334.9C823.03,337.55 823.24,340.21 823.46,342.86C823.67,345.51 823.9,348.16 824.12,350.82C824.34,353.47 824.55,356.12 824.78,358.78C825,361.43 825.21,364.08 825.48,366.73C825.75,369.38 826.01,372.03 826.38,374.67C826.75,377.3 827.15,379.94 827.72,382.54C828.29,385.13 829,387.71 829.81,390.24C830.62,392.77 831.58,395.26 832.58,397.73C833.58,400.2 834.66,402.63 835.79,405.04C836.92,407.45 838.15,409.81 839.37,412.18C840.59,414.55 841.85,416.89 843.11,419.24C844.37,421.58 845.63,423.93 846.93,426.25C848.22,428.58 849.53,430.89 850.89,433.19C852.24,435.48 853.63,437.75 855.04,440C856.45,442.26 857.91,444.49 859.35,446.73C860.8,448.96 862.24,451.2 863.72,453.42C865.19,455.63 866.66,457.85 868.19,460.03C869.71,462.22 871.27,464.38 872.85,466.52C874.43,468.66 876.03,470.78 877.68,472.87C879.33,474.97 881,477.04 882.73,479.06C884.45,481.09 886.23,483.07 888.03,485.03C889.84,486.99 891.69,488.9 893.55,490.81C895.4,492.72 897.28,494.6 899.18,496.47C901.08,498.34 902.99,500.19 904.92,502.02C906.85,503.86 908.8,505.67 910.77,507.46C912.74,509.25 914.72,511.02 916.74,512.77C918.75,514.51 920.78,516.23 922.83,517.93C924.88,519.62 926.95,521.29 929.05,522.94C931.15,524.58 933.27,526.19 935.4,527.77C937.54,529.36 939.7,530.92 941.88,532.45C944.05,533.98 946.24,535.5 948.46,536.97C950.68,538.44 952.98,539.79 955.2,541.26C957.41,542.73 959.68,544.15 961.76,545.8C963.84,547.45 965.78,549.29 967.67,551.15C969.56,553.02 971.34,555.02 973.11,557.01C974.89,558.99 976.85,560.88 978.33,563.06C979.81,565.24 981.08,567.61 981.99,570.08C982.89,572.54 983.32,575.24 983.75,577.87C984.19,580.49 984.34,583.16 984.6,585.81C984.87,588.46 985.1,591.11 985.34,593.76C985.59,596.41 985.91,599.06 986.07,601.71C986.23,604.37 986.42,607.05 986.31,609.7C986.19,612.35 986.01,615.06 985.4,617.62C984.79,620.18 983.83,622.73 982.62,625.07C981.41,627.41 979.81,629.61 978.13,631.66C976.46,633.72 974.52,635.58 972.58,637.4C970.64,639.22 968.57,640.91 966.48,642.56C964.39,644.21 962.22,645.76 960.04,647.28C957.86,648.8 955.62,650.25 953.39,651.69C951.15,653.14 948.89,654.54 946.64,655.96C944.39,657.39 942.13,658.79 939.89,660.23C937.65,661.67 935.41,663.11 933.21,664.6C931,666.09 928.82,667.62 926.66,669.17C924.49,670.72 922.35,672.3 920.23,673.91C918.11,675.52 916.02,677.18 913.93,678.82C911.84,680.47 909.77,682.14 907.68,683.79C905.59,685.44 903.49,687.07 901.4,688.72C899.3,690.36 897.21,692.01 895.12,693.66C893.03,695.31 890.95,696.97 888.87,698.63C886.78,700.28 884.7,701.94 882.6,703.58C880.5,705.21 878.36,706.8 876.27,708.45C874.18,710.1 872.09,711.74 870.07,713.47C868.05,715.21 866.07,716.99 864.16,718.84C862.25,720.7 860.38,722.6 858.61,724.59C856.84,726.57 855.12,728.62 853.52,730.74C851.91,732.85 850.4,735.05 848.98,737.3C847.56,739.55 846.26,741.88 845.01,744.23C843.76,746.58 842.59,748.98 841.49,751.4C840.4,753.83 839.39,756.29 838.45,758.78C837.5,761.27 836.64,763.79 835.84,766.33C835.03,768.86 834.29,771.42 833.61,774C832.92,776.57 832.31,779.16 831.72,781.76C831.14,784.35 830.61,786.96 830.1,789.57C829.58,792.19 829.1,794.8 828.65,797.43C828.2,800.05 827.78,802.68 827.41,805.32C827.03,807.95 826.7,810.59 826.4,813.24C826.09,815.88 825.83,818.53 825.57,821.18C825.31,823.83 825.06,826.48 824.85,829.13C824.64,831.79 824.47,834.44 824.32,837.1C824.17,839.76 824.07,842.42 823.97,845.08C823.86,847.74 823.77,850.4 823.69,853.06C823.61,855.72 823.54,858.38 823.48,861.05C823.41,863.71 823.37,866.37 823.32,869.03C823.28,871.69 823.24,874.35 823.21,877.01C823.17,879.68 823.12,883.67 823.1,885" stroke="#3b8b7e" stroke-width="3.95"/>
<path d="M821.3,245C821.34,246.33 821.45,250.32 821.52,252.98C821.6,255.64 821.67,258.3 821.75,260.96C821.84,263.62 821.92,266.28 822.02,268.94C822.12,271.6 822.23,274.26 822.36,276.92C822.48,279.58 822.62,282.23 822.76,284.89C822.9,287.55 823.05,290.21 823.21,292.86C823.37,295.52 823.53,298.17 823.73,300.83C823.92,303.48 824.12,306.14 824.38,308.79C824.63,311.43 824.93,314.08 825.26,316.72C825.6,319.36 826,321.99 826.4,324.62C826.8,327.25 827.2,329.88 827.65,332.51C828.1,335.13 828.56,337.75 829.1,340.36C829.63,342.96 830.24,345.56 830.86,348.15C831.48,350.73 832.19,353.3 832.82,355.88C833.45,358.47 834.03,361.07 834.63,363.66C835.23,366.25 835.72,368.88 836.41,371.44C837.1,374.01 837.88,376.56 838.79,379.06C839.7,381.55 840.78,383.99 841.86,386.42C842.95,388.85 844.11,391.25 845.31,393.63C846.51,396 847.76,398.35 849.06,400.67C850.37,402.99 851.74,405.27 853.15,407.53C854.56,409.78 856.03,412.01 857.53,414.21C859.02,416.41 860.56,418.58 862.14,420.72C863.71,422.87 865.32,424.99 866.97,427.07C868.63,429.16 870.33,431.21 872.06,433.23C873.78,435.26 875.56,437.24 877.34,439.21C879.13,441.19 880.94,443.14 882.77,445.07C884.61,446.99 886.46,448.9 888.36,450.77C890.25,452.65 892.16,454.49 894.12,456.3C896.07,458.11 898.07,459.86 900.08,461.61C902.08,463.37 904.11,465.08 906.13,466.82C908.14,468.56 910.14,470.31 912.15,472.06C914.15,473.81 916.15,475.57 918.15,477.32C920.16,479.08 922.16,480.83 924.17,482.57C926.18,484.31 928.22,486.03 930.22,487.78C932.23,489.53 934.24,491.27 936.2,493.07C938.16,494.87 940.09,496.71 941.99,498.57C943.88,500.44 945.75,502.33 947.59,504.26C949.43,506.18 951.25,508.13 953.02,510.11C954.79,512.1 956.55,514.1 958.22,516.17C959.88,518.25 961.49,520.38 962.99,522.57C964.49,524.76 965.93,527.01 967.24,529.33C968.55,531.64 969.74,534.02 970.84,536.44C971.94,538.87 973.01,541.33 973.85,543.85C974.69,546.36 975.47,548.93 975.88,551.54C976.29,554.15 976.24,556.84 976.29,559.5C976.34,562.16 976.33,564.83 976.18,567.49C976.02,570.14 975.79,572.8 975.35,575.42C974.91,578.03 974.28,580.64 973.52,583.18C972.75,585.73 971.84,588.25 970.78,590.68C969.71,593.11 968.49,595.5 967.11,597.76C965.72,600.02 964.09,602.15 962.46,604.25C960.84,606.35 959.1,608.38 957.35,610.38C955.59,612.38 953.82,614.38 951.95,616.27C950.09,618.16 948.12,619.96 946.13,621.72C944.14,623.49 942.06,625.15 940.02,626.86C937.98,628.58 935.94,630.28 933.91,632C931.88,633.72 929.84,635.43 927.83,637.18C925.83,638.93 923.84,640.7 921.87,642.49C919.9,644.28 917.97,646.11 916.03,647.93C914.08,649.75 912.15,651.57 910.2,653.39C908.26,655.21 906.33,657.04 904.38,658.85C902.42,660.66 900.47,662.46 898.48,664.22C896.49,665.99 894.46,667.71 892.44,669.44C890.41,671.17 888.37,672.88 886.34,674.6C884.31,676.32 882.27,678.03 880.24,679.75C878.21,681.48 876.18,683.19 874.18,684.94C872.17,686.69 870.16,688.44 868.2,690.24C866.25,692.05 864.31,693.87 862.44,695.77C860.58,697.67 858.78,699.63 857.03,701.63C855.28,703.64 853.53,705.66 851.92,707.78C850.32,709.9 848.69,712.03 847.4,714.34C846.11,716.65 845.24,719.18 844.2,721.62C843.16,724.07 842.17,726.54 841.15,729C840.14,731.46 839,733.87 838.1,736.37C837.2,738.87 836.48,741.44 835.76,744C835.03,746.56 834.4,749.15 833.76,751.73C833.11,754.31 832.47,756.9 831.88,759.49C831.29,762.09 830.73,764.69 830.22,767.3C829.72,769.91 829.27,772.54 828.85,775.17C828.43,777.79 828.06,780.43 827.71,783.07C827.35,785.7 827.02,788.35 826.72,790.99C826.42,793.63 826.14,796.28 825.9,798.93C825.65,801.58 825.45,804.23 825.27,806.89C825.09,809.54 824.95,812.2 824.81,814.86C824.67,817.52 824.56,820.18 824.45,822.84C824.34,825.5 824.23,828.15 824.13,830.81C824.03,833.47 823.93,836.13 823.85,838.79C823.77,841.45 823.71,844.11 823.65,846.77C823.6,849.43 823.57,852.1 823.54,854.76C823.52,857.42 823.5,860.08 823.49,862.74C823.47,865.4 823.46,868.05 823.45,870.72C823.44,873.39 823.43,876.12 823.42,878.75C823.42,881.38 823.41,884.63 823.4,886.51C823.4,888.38 823.4,889.42 823.4,890" stroke="#ff4413" stroke-width="3.95"/>
<path d="M821.3,200C821.35,201.33 821.48,205.32 821.57,207.98C821.67,210.65 821.76,213.31 821.85,215.97C821.95,218.63 822.05,221.29 822.17,223.95C822.28,226.61 822.4,229.27 822.53,231.93C822.66,234.59 822.8,237.25 822.94,239.91C823.09,242.57 823.23,245.23 823.4,247.89C823.56,250.55 823.73,253.2 823.93,255.86C824.13,258.51 824.33,261.17 824.58,263.82C824.84,266.47 825.11,269.12 825.47,271.76C825.82,274.4 826.24,277.03 826.72,279.65C827.19,282.27 827.73,284.88 828.3,287.48C828.86,290.08 829.43,292.69 830.11,295.26C830.79,297.84 831.53,300.4 832.36,302.93C833.2,305.45 834.16,307.94 835.13,310.42C836.09,312.9 837.11,315.37 838.14,317.82C839.17,320.28 840.22,322.72 841.31,325.15C842.4,327.58 843.53,330 844.68,332.4C845.83,334.8 847.02,337.18 848.23,339.55C849.44,341.92 850.69,344.28 851.96,346.62C853.22,348.96 854.54,351.28 855.85,353.6C857.15,355.92 858.48,358.23 859.79,360.55C861.11,362.86 862.38,365.2 863.73,367.5C865.09,369.79 866.44,372.08 867.91,374.3C869.38,376.52 870.97,378.66 872.54,380.81C874.12,382.96 875.77,385.05 877.37,387.18C878.97,389.3 880.57,391.44 882.17,393.57C883.76,395.7 885.37,397.82 886.96,399.95C888.56,402.09 890.14,404.23 891.73,406.37C893.32,408.5 894.88,410.66 896.5,412.78C898.11,414.89 899.75,417 901.42,419.07C903.09,421.14 904.78,423.21 906.54,425.2C908.3,427.2 910.12,429.15 911.99,431.04C913.86,432.93 915.79,434.78 917.77,436.56C919.75,438.33 921.77,440.07 923.87,441.72C925.96,443.36 928.16,444.86 930.34,446.4C932.51,447.93 934.73,449.41 936.92,450.92C939.11,452.44 941.33,453.92 943.48,455.49C945.63,457.06 947.77,458.65 949.81,460.35C951.86,462.05 953.86,463.83 955.76,465.69C957.67,467.54 959.55,469.46 961.24,471.5C962.94,473.55 964.63,475.66 965.93,477.96C967.23,480.26 968.25,482.76 969.03,485.28C969.82,487.81 970.3,490.48 970.65,493.11C970.99,495.74 971.06,498.42 971.09,501.08C971.12,503.74 970.97,506.41 970.82,509.07C970.66,511.72 970.44,514.38 970.15,517.03C969.86,519.67 969.51,522.32 969.08,524.94C968.64,527.57 968.09,530.18 967.51,532.78C966.94,535.38 966.42,538.02 965.61,540.54C964.8,543.07 963.9,545.6 962.67,547.94C961.45,550.28 959.83,552.44 958.26,554.59C956.7,556.74 954.97,558.78 953.28,560.84C951.59,562.9 949.88,564.93 948.14,566.96C946.41,568.98 944.63,570.96 942.88,572.97C941.14,574.98 939.41,577.01 937.67,579.03C935.94,581.05 934.21,583.07 932.48,585.1C930.75,587.12 929.03,589.15 927.3,591.18C925.57,593.2 923.84,595.23 922.09,597.24C920.34,599.25 918.59,601.26 916.81,603.23C915.02,605.21 913.24,607.19 911.38,609.09C909.52,611 907.59,612.83 905.65,614.66C903.71,616.49 901.72,618.25 899.75,620.05C897.79,621.84 895.81,623.63 893.85,625.43C891.89,627.23 889.9,629.01 887.97,630.84C886.04,632.68 884.13,634.53 882.26,636.43C880.4,638.33 878.54,640.24 876.78,642.25C875.03,644.25 873.35,646.32 871.74,648.44C870.14,650.56 868.68,652.79 867.15,654.97C865.62,657.15 864.1,659.34 862.57,661.52C861.03,663.69 859.48,665.86 857.92,668.02C856.36,670.18 854.78,672.32 853.23,674.48C851.67,676.64 850.05,678.76 848.56,680.97C847.07,683.17 845.64,685.42 844.28,687.71C842.93,690 841.65,692.34 840.44,694.72C839.24,697.09 838.13,699.51 837.07,701.96C836.01,704.4 835.03,706.88 834.1,709.38C833.18,711.87 832.32,714.4 831.51,716.93C830.7,719.47 829.91,722.02 829.25,724.59C828.58,727.17 828.02,729.77 827.53,732.39C827.04,735 826.66,737.65 826.29,740.28C825.92,742.92 825.59,745.56 825.31,748.21C825.03,750.86 824.81,753.51 824.58,756.17C824.35,758.82 824.16,761.48 823.96,764.13C823.76,766.79 823.56,769.44 823.38,772.1C823.19,774.76 823.01,777.41 822.83,780.07C822.65,782.73 822.47,785.39 822.29,788.04C822.11,790.7 821.89,794.02 821.76,796.01C821.63,798.01 821.54,799.34 821.5,800" stroke="#6857d6" stroke-width="3.95"/>
<path d="M823.1,463.1 H995.5" stroke="#3b8b7e" stroke-width="5.1" stroke-dasharray="18.2 8.9" stroke-dashoffset="0"/>
<path d="M823.1,422.3 H995.5" stroke="#ff4413" stroke-width="5.1" stroke-dasharray="18.2 8.9" stroke-dashoffset="0"/>
<path d="M823.1,367 H995.5" stroke="#6857d6" stroke-width="5.1" stroke-dasharray="18.2 8.9" stroke-dashoffset="0"/>
<path d="M823.1,452.4 H995.5" stroke="#000" stroke-width="5.0"/>
</g>
<g fill="none" stroke="#000" stroke-width="2.05" stroke-linejoin="miter">
<rect x="112" y="4.7" width="689.7" height="171.8"/>
<rect x="112" y="198.7" width="689.7" height="689.1"/>
<rect x="823.1" y="198.7" width="172.4" height="689.1"/>
<path d="M137.5,176.5 v9.2M137.5,887.8 v9.2M307.9,176.5 v9.2M307.9,887.8 v9.2M478.3,176.5 v9.2M478.3,887.8 v9.2M648.7,176.5 v9.2M648.7,887.8 v9.2M112,262 h-9.2M823.1,262 h-9.2M112,344.12 h-9.2M823.1,344.12 h-9.2M112,426.25 h-9.2M823.1,426.25 h-9.2M112,508.38 h-9.2M823.1,508.38 h-9.2M112,590.5 h-9.2M823.1,590.5 h-9.2M112,672.62 h-9.2M823.1,672.62 h-9.2M112,754.75 h-9.2M823.1,754.75 h-9.2M112,836.88 h-9.2M823.1,836.88 h-9.2"/>
</g>
<text class="t" text-anchor="middle" transform="translate(137.5,926.3) scale(1,1.020)">−2</text>
<text class="t" text-anchor="middle" transform="translate(307.9,926.3) scale(1,1.020)">0</text>
<text class="t" text-anchor="middle" transform="translate(478.3,926.3) scale(1,1.020)">2</text>
<text class="t" text-anchor="middle" transform="translate(648.7,926.3) scale(1,1.020)">4</text>
<text class="t" text-anchor="end" transform="translate(93.3,272.5) scale(1,1.020)">100</text>
<text class="t" text-anchor="end" transform="translate(93.3,354.62) scale(1,1.020)">75</text>
<text class="t" text-anchor="end" transform="translate(93.3,436.75) scale(1,1.020)">50</text>
<text class="t" text-anchor="end" transform="translate(93.3,518.88) scale(1,1.020)">25</text>
<text class="t" text-anchor="end" transform="translate(93.3,601) scale(1,1.020)">0</text>
<text class="t" text-anchor="end" transform="translate(93.3,683.12) scale(1,1.020)">−25</text>
<text class="t" text-anchor="end" transform="translate(93.3,765.25) scale(1,1.020)">−50</text>
<text class="t" text-anchor="end" transform="translate(93.3,847.38) scale(1,1.020)">−75</text>
<text class="t" text-anchor="middle" transform="translate(455.4,962.4) scale(1,1.020)">Temperature Anomaly (K)</text>
<text class="yl" text-anchor="middle" transform="translate(22.7,544.4) rotate(-90)">Negative Precipitation Anomaly (mm)</text>
</svg></body></html>
